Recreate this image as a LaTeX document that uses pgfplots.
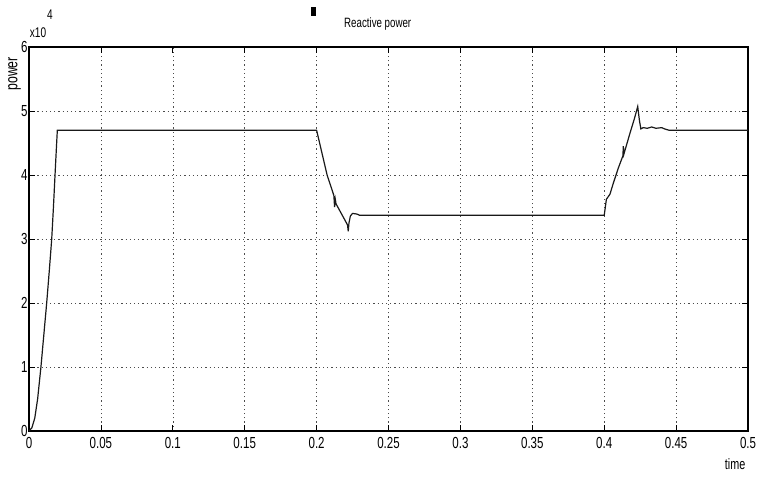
\documentclass[border=0pt]{standalone}
\usepackage{fontspec}
\setmainfont[FakeStretch=0.72]{Liberation Sans}
\usepackage{pgfplots}
\pgfplotsset{compat=1.18}
\begin{document}
\begin{tikzpicture}
\begin{axis}[
  name=ax,
  scale only axis,
  width=719pt, height=384pt,
  xmin=0, xmax=0.5, ymin=0, ymax=6,
  xtick={0,0.05,...,0.5},
  xticklabels={0,0.05,0.1,0.15,0.2,0.25,0.3,0.35,0.4,0.45,0.5},
  ytick={0,1,...,6},
  yticklabels={0,1,2,3,4,5,6},
  tick align=inside,
  major tick length=6pt,
  tick style={black, line width=0.8pt},
  axis line style={black, line width=1.2pt},
  grid=major,
  major grid style={black!70, line width=0.6pt, dash pattern=on 1.2pt off 3pt},
  tick label style={font=\fontsize{16}{18}\selectfont},
  xticklabel style={yshift=-3pt},
  yticklabel style={xshift=2pt},
  title={Reactive power},
  title style={font=\fontsize{13.5}{15}\selectfont, at={(axis description cs:0.485,1)}, anchor=south, yshift=7pt},
  xlabel={time},
  xlabel style={font=\fontsize{15}{17}\selectfont, at={(axis description cs:0.982,0)}, anchor=north, yshift=-24pt},
  ylabel={power},
  ylabel style={font=\fontsize{17}{19}\selectfont, at={(axis description cs:-0.02,0.93)}, anchor=center},
  clip=true,
]
\addplot[black!90, line width=1.2pt] coordinates {
(0,0) (0.002,0.05) (0.004,0.2) (0.006,0.5) (0.0083,1) (0.0103,1.5) (0.0123,2) (0.0141,2.5) (0.0158,3) (0.0170,3.5) (0.0181,4) (0.0190,4.4) (0.0197,4.7)
(0.2,4.7) (0.2073,4.0) (0.212,3.68) (0.2125,3.5) (0.213,3.62) (0.2135,3.55) (0.2215,3.22) (0.222,3.12) (0.2225,3.25) (0.2235,3.36) (0.225,3.40) (0.228,3.39) (0.23,3.37)
(0.4,3.37) (0.4005,3.45) (0.4015,3.62) (0.404,3.7) (0.4063,3.87) (0.41,4.12) (0.413,4.3) (0.4133,4.45) (0.4136,4.32) (0.418,4.66) (0.421,4.88) (0.4233,5.07) (0.4245,4.85) (0.4255,4.72) (0.427,4.74) (0.43,4.73) (0.433,4.75) (0.436,4.73) (0.44,4.74) (0.442,4.72) (0.445,4.7) (0.5,4.7)
};
\end{axis}
\node[anchor=center, font=\fontsize{14}{16}\selectfont] at ([shift={(9pt,14pt)}]ax.north west) {x10};
\node[anchor=center, font=\fontsize{14}{16}\selectfont] at ([shift={(21pt,32pt)}]ax.north west) {4};
\fill ([shift={(281.5pt,30.5pt)}]ax.north west) rectangle ++(5pt,9pt);
\pgfresetboundingbox
\path ([shift={(-29pt,-45pt)}]ax.south west) rectangle ([shift={(12pt,47pt)}]ax.north east);
\end{tikzpicture}
\end{document}
